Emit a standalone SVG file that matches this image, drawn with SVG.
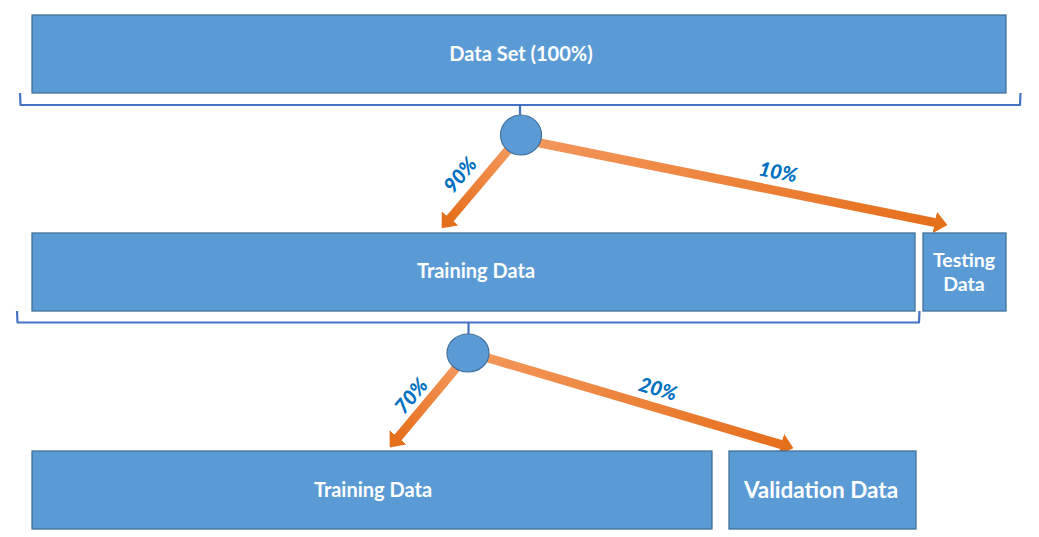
<svg xmlns="http://www.w3.org/2000/svg" width="1039" height="537" viewBox="0 0 1039 537">
  <style>
    .box { fill: #5B9BD5; stroke: #41719C; stroke-width: 1.3; }
    .dot { fill: #5B9BD5; stroke: #41719C; stroke-width: 1.2; }
    .brace { fill: none; stroke: #4472C4; stroke-width: 2.2; stroke-linejoin: round; }
    .lbl { font-family: Lato, "Liberation Sans", sans-serif; font-weight: bold; fill: #FFFFFF; text-anchor: middle; }
    .pct { font-family: Lato, "Liberation Sans", sans-serif; font-weight: 900; font-style: italic; fill: #0070C0; font-size: 20px; text-anchor: middle; }
    .arr { fill: none; stroke-width: 9; stroke-linecap: butt; marker-end: url(#head); }
  </style>
  <defs>
    <marker id="head" markerUnits="userSpaceOnUse" viewBox="0 0 13 22" refX="0.5" refY="11" markerWidth="13" markerHeight="22" orient="auto">
      <path d="M0,0 L13,11 L0,22 Z" fill="#E5701C"/>
    </marker>
    <linearGradient id="g1" gradientUnits="userSpaceOnUse" x1="508" y1="150" x2="450" y2="219">
      <stop offset="0" stop-color="#F3965A"/><stop offset="1" stop-color="#E66F1C"/>
    </linearGradient>
    <linearGradient id="g2" gradientUnits="userSpaceOnUse" x1="538" y1="143" x2="935" y2="223">
      <stop offset="0" stop-color="#F3965A"/><stop offset="1" stop-color="#E66F1C"/>
    </linearGradient>
    <linearGradient id="g3" gradientUnits="userSpaceOnUse" x1="456" y1="368" x2="398" y2="438">
      <stop offset="0" stop-color="#F3965A"/><stop offset="1" stop-color="#E66F1C"/>
    </linearGradient>
    <linearGradient id="g4" gradientUnits="userSpaceOnUse" x1="486" y1="358" x2="781" y2="445">
      <stop offset="0" stop-color="#F3965A"/><stop offset="1" stop-color="#E66F1C"/>
    </linearGradient>
  </defs>

  <g id="connectors">
    <path class="brace" d="M20,93 L20.5,105 L1020,105 L1020.5,93"/>
    <path class="brace" d="M520,105 L520,115"/>
    <path class="brace" d="M17,311 L17.5,322.5 L919,322.5 L919.5,311"/>
    <path class="brace" d="M468.5,322.5 L468.5,334"/>
    <line class="arr" stroke="url(#g1)" x1="514" y1="143" x2="449.8" y2="218.8"/>
    <line class="arr" stroke="url(#g2)" x1="530" y1="141" x2="935.2" y2="222.6"/>
    <line class="arr" stroke="url(#g3)" x1="462" y1="361" x2="397.7" y2="437.8"/>
    <line class="arr" stroke="url(#g4)" x1="478" y1="355" x2="781.5" y2="444.6"/>
    <text class="pct" transform="translate(460,175) rotate(-50)" y="7">90%</text>
    <text class="pct" transform="translate(778,172) rotate(11)" y="7">10%</text>
    <text class="pct" transform="translate(411,396) rotate(-50)" y="7">70%</text>
    <text class="pct" transform="translate(658,389) rotate(16)" y="7">20%</text>
  </g>

  <g id="dataset">
    <rect class="box" x="32" y="15" width="974" height="78"/>
    <text class="lbl" x="521" y="61" font-size="20">Data Set (100%)</text>
  </g>
  <g id="split1">
    <ellipse class="dot" cx="521" cy="135" rx="20.5" ry="20"/>
  </g>
  <g id="training1">
    <rect class="box" x="32" y="233" width="883" height="78"/>
    <text class="lbl" x="476" y="278" font-size="20">Training Data</text>
  </g>
  <g id="testing">
    <rect class="box" x="923" y="233" width="83" height="78"/>
    <text class="lbl" x="964" y="266.5" font-size="19.5">Testing</text>
    <text class="lbl" x="964" y="291" font-size="19.5">Data</text>
  </g>
  <g id="split2">
    <ellipse class="dot" cx="468" cy="353" rx="21" ry="19"/>
  </g>
  <g id="training2">
    <rect class="box" x="32" y="451" width="680" height="78"/>
    <text class="lbl" x="373" y="497" font-size="20">Training Data</text>
  </g>
  <g id="validation">
    <rect class="box" x="729" y="451" width="187" height="78"/>
    <text class="lbl" x="821" y="498" font-size="22.5">Validation Data</text>
  </g>
</svg>
